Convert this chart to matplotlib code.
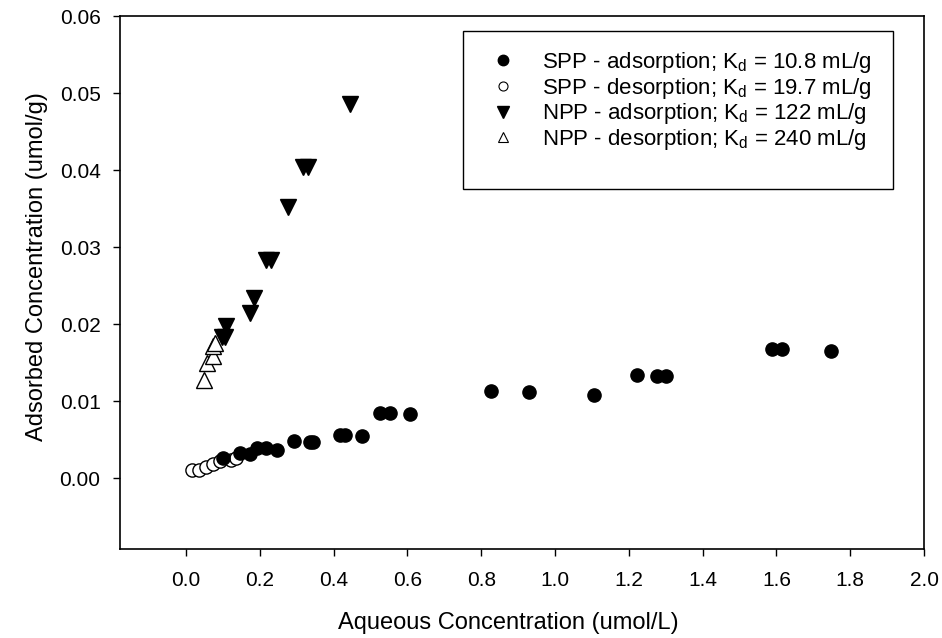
import matplotlib.pyplot as plt
from matplotlib.lines import Line2D
from matplotlib.patches import Rectangle

plt.rcParams['font.family'] = ['Liberation Sans', 'DejaVu Sans']

# SPP adsorption (filled circles)
spp_ads_x = [0.100, 0.147, 0.174, 0.192, 0.217, 0.246, 0.292, 0.335, 0.345,
             0.418, 0.430, 0.477, 0.527, 0.552, 0.607, 0.827, 0.929, 1.106,
             1.221, 1.276, 1.301, 1.587, 1.614, 1.748]
spp_ads_y = [0.0026, 0.0032, 0.0031, 0.0039, 0.0039, 0.0037, 0.0048, 0.0047, 0.0047,
             0.0056, 0.0056, 0.0055, 0.0084, 0.0084, 0.0083, 0.0113, 0.0112, 0.0108,
             0.0134, 0.0133, 0.0132, 0.0168, 0.0168, 0.0165]

# SPP desorption (open circles)
spp_des_x = [0.015, 0.034, 0.054, 0.073, 0.093, 0.123, 0.136]
spp_des_y = [0.0010, 0.0011, 0.0014, 0.0019, 0.0022, 0.0024, 0.0026]

# NPP adsorption (filled down triangles)
npp_ads_x = [0.444, 0.318, 0.331, 0.275, 0.217, 0.230, 0.185, 0.174, 0.108, 0.097, 0.106]
npp_ads_y = [0.0486, 0.0404, 0.0404, 0.0352, 0.0283, 0.0283, 0.0234, 0.0215, 0.0197, 0.0183, 0.0183]

# NPP desorption (open up triangles)
npp_des_x = [0.049, 0.056, 0.072, 0.072, 0.079]
npp_des_y = [0.0128, 0.0149, 0.0159, 0.0171, 0.0176]

labels = ['SPP - adsorption; K$_\\mathregular{d}$ = 10.8 mL/g',
          'SPP - desorption; K$_\\mathregular{d}$ = 19.7 mL/g',
          'NPP - adsorption; K$_\\mathregular{d}$ = 122 mL/g',
          'NPP - desorption; K$_\\mathregular{d}$ = 240 mL/g']

W, H = 942, 638
x0, x1, y0, y1 = 120, 924, 16, 549  # axes box in pixels

fig = plt.figure(figsize=(W / 100, H / 100), dpi=100)
ax = fig.add_axes([x0 / W, 1 - y1 / H, (x1 - x0) / W, (y1 - y0) / H])

ax.plot(spp_ads_x, spp_ads_y, 'o', ms=9.5, mfc='black', mec='black', ls='none', zorder=3)
ax.plot(spp_des_x, spp_des_y, 'o', ms=9.5, mfc='white', mec='black', mew=1.0, ls='none', zorder=2)
ax.plot(npp_ads_x, npp_ads_y, 'v', ms=11.5, mfc='black', mec='black', ls='none', zorder=3)
ax.plot(npp_des_x, npp_des_y, '^', ms=11.5, mfc='white', mec='black', mew=1.0, ls='none', zorder=2)

ax.set_xlim(-0.179, 2.0)
ax.set_ylim(-0.0092, 0.06)
ax.set_xticks([0.0, 0.2, 0.4, 0.6, 0.8, 1.0, 1.2, 1.4, 1.6, 1.8, 2.0])
ax.set_xticklabels(['0.0', '0.2', '0.4', '0.6', '0.8', '1.0', '1.2', '1.4', '1.6', '1.8', '2.0'])
ax.set_yticks([0.0, 0.01, 0.02, 0.03, 0.04, 0.05, 0.06])
ax.set_yticklabels(['0.00', '0.01', '0.02', '0.03', '0.04', '0.05', '0.06'])
ax.tick_params(direction='out', length=5, width=1, labelsize=15)
ax.tick_params(axis='x', pad=11)
ax.tick_params(axis='y', pad=9)
for s in ax.spines.values():
    s.set_linewidth(1.2)

ax.set_xlabel('Aqueous Concentration (umol/L)', fontsize=17)
ax.set_ylabel('Adsorbed Concentration (umol/g)', fontsize=17)
ax.xaxis.set_label_coords((508 - x0) / (x1 - x0), -(623 - y1) / (y1 - y0), transform=ax.transAxes)
ax.yaxis.set_label_coords(-(x0 - 37) / (x1 - x0), (y1 - 267) / (y1 - y0), transform=ax.transAxes)
ax.xaxis.label.set_va('center')
ax.yaxis.label.set_va('center')

handles = [
    Line2D([], [], marker='o', ls='none', ms=7.5, mfc='black', mec='black'),
    Line2D([], [], marker='o', ls='none', ms=6.5, mfc='white', mec='black', mew=0.8),
    Line2D([], [], marker='v', ls='none', ms=8, mfc='black', mec='black'),
    Line2D([], [], marker='^', ls='none', ms=7, mfc='white', mec='black', mew=0.8),
]
leg = ax.legend(handles, labels, loc='upper left',
                bbox_to_anchor=((481 - x0) / (x1 - x0), (y1 - 50) / (y1 - y0)),
                fontsize=16, frameon=False, borderpad=0, labelspacing=0.03,
                handlelength=2.0, handletextpad=0.75, borderaxespad=0)

# legend box
ax.add_patch(Rectangle(((463 - x0) / (x1 - x0), (y1 - 189) / (y1 - y0)),
                       (893 - 463) / (x1 - x0), (189 - 31) / (y1 - y0),
                       transform=ax.transAxes, fill=False, ec='black', lw=1.0, zorder=5))

fig.savefig('out.png', dpi=100)
